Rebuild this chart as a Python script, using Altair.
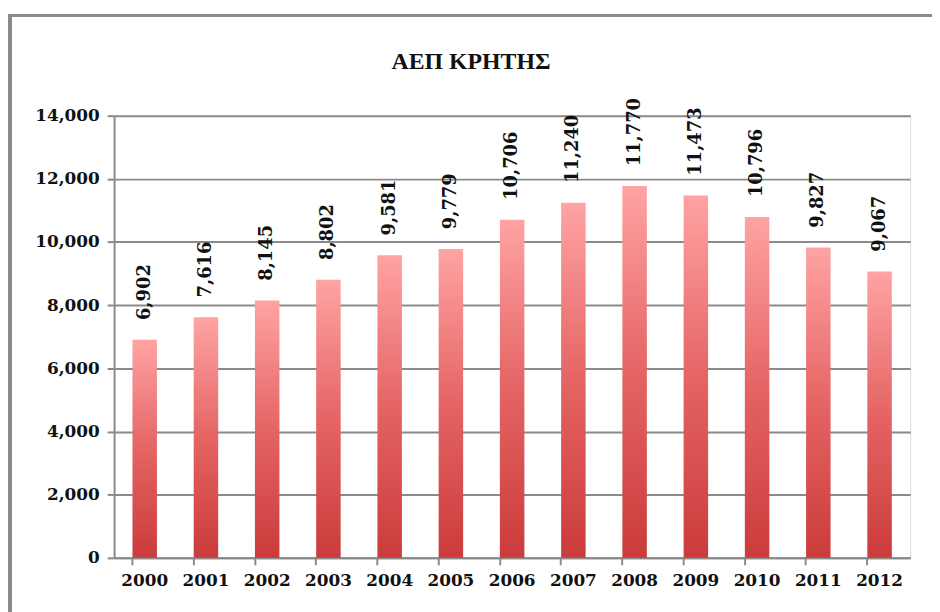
import altair as alt
import pandas as pd

years = ["2000", "2001", "2002", "2003", "2004", "2005", "2006",
         "2007", "2008", "2009", "2010", "2011", "2012"]
gdp = [6902, 7616, 8145, 8802, 9581, 9779, 10706,
       11240, 11770, 11473, 10796, 9827, 9067]
title_text = "ΑΕΠ ΚΡΗΤΗΣ"
y_ticks = [0, 2000, 4000, 6000, 8000, 10000, 12000, 14000]

df = pd.DataFrame({"year": years, "gdp": gdp})
title_df = pd.DataFrame({"t": [title_text]})

W, H = 803, 446
FONT = "DejaVu Serif"

x_enc = alt.X("year:N", sort=years,
              scale=alt.Scale(paddingInner=0.6, paddingOuter=0.3),
              axis=alt.Axis(title=None, labelAngle=0, labelFont=FONT,
                            labelFontSize=17, labelFontWeight="bold",
                            labelColor="#111", labelPadding=8,
                            domainColor="#8a8a8a", domainWidth=2,
                            tickColor="#8a8a8a", tickWidth=2, tickSize=7,
                            bandPosition=0, grid=False))
y_enc = alt.Y("gdp:Q",
              scale=alt.Scale(domain=[0, 14000], nice=False),
              axis=alt.Axis(title=None, values=y_ticks, format=",d",
                            labelFont=FONT, labelFontSize=17,
                            labelFontWeight="bold", labelColor="#111",
                            labelPadding=8,
                            domainColor="#8a8a8a", domainWidth=2,
                            tickColor="#8a8a8a", tickWidth=2, tickSize=7,
                            grid=True, gridColor="#8a8a8a", gridWidth=2))

bars = alt.Chart(df).mark_bar(
    color=alt.Gradient(
        gradient="linear",
        stops=[alt.GradientStop(color="#FFA3A3", offset=0),
               alt.GradientStop(color="#E56464", offset=0.5),
               alt.GradientStop(color="#CB3B3B", offset=1)],
        x1=0, x2=0, y1=0, y2=1),
).encode(x=x_enc, y=y_enc)

labels = alt.Chart(df).mark_text(
    angle=270, align="left", baseline="middle", dx=20,
    font=FONT, fontSize=18, fontWeight="bold", color="#111"
).encode(x=alt.X("year:N", sort=years), y="gdp:Q",
         text=alt.Text("gdp:Q", format=",d"))

title = alt.Chart(title_df).mark_text(
    font="Liberation Serif", fontSize=24, fontWeight="bold", color="#111",
    align="center", baseline="middle"
).encode(x=alt.value(360), y=alt.value(-54), text="t:N")

frame = alt.Chart(df).mark_rect(
    fill=None, stroke="#8a8a8a", strokeWidth=3, clip=False
).encode(x=alt.value(-105), x2=alt.value(W + 60),
         y=alt.value(-101), y2=alt.value(H + 100))

chart = alt.layer(frame, bars, labels, title).properties(
    width=W, height=H,
    autosize=alt.AutoSizeParams(type="none"),
    padding={"left": 107, "top": 106, "right": 22, "bottom": 52},
).configure_view(stroke=None).configure(background="white")

chart.save("out.html", embed_options={"renderer": "svg", "actions": False})
